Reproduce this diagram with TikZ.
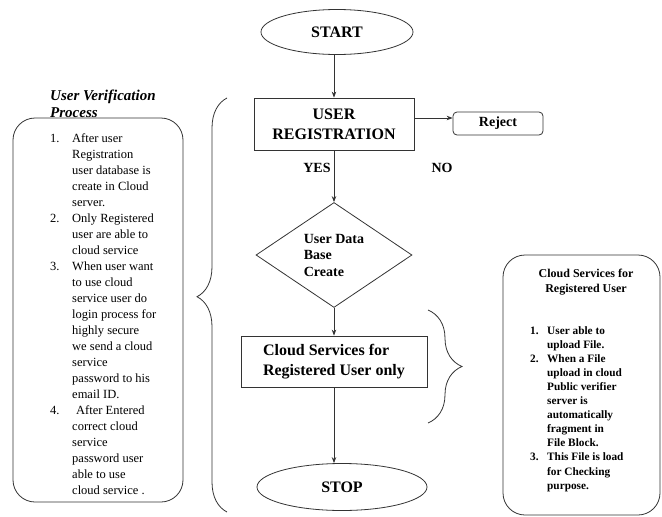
\documentclass[tikz,border=0pt]{standalone}
\usepackage{fontspec}
\setmainfont{Liberation Serif}[
	BoldFont={Liberation Serif Bold},
	ItalicFont={Liberation Serif Italic},
	BoldItalicFont={Liberation Serif Bold Italic}]
\usetikzlibrary{shapes.geometric, arrows.meta, decorations.pathreplacing}

\tikzset{
	flowline/.style={draw=black!80, line width=0.8pt},
	arrowline/.style={flowline, -{Stealth[length=6pt, width=4.5pt]}},
	procbox/.style={flowline, rectangle, inner sep=0pt, align=center, font=\bfseries\fontsize{16}{20}\selectfont},
	termnode/.style={flowline, ellipse, inner sep=0pt, font=\bfseries\fontsize{16}{19}\selectfont},
	notebox/.style={flowline, rectangle, rounded corners=22pt, inner sep=0pt},
	listtext/.style={inner sep=0pt, anchor=base west},
	bracepath/.style={flowline, decorate, decoration={brace, amplitude=#1}},
}

\begin{document}
\begin{tikzpicture}[x=1pt, y=-1pt]

\useasboundingbox (0,0) rectangle (662,517); % keep img size

	% main flow
	\node[termnode, minimum width=152pt, minimum height=45pt] (start) at (337,32) {START};
	\node[procbox, minimum width=160pt, minimum height=52pt] (reg) at (334,124) {USER\\REGISTRATION};
	\node[flowline, rectangle, rounded corners=4pt, minimum width=90pt, minimum height=23pt, inner sep=0pt,
		font=\bfseries\fontsize{14}{16}\selectfont] (reject) at (498,123.5) {Reject};
	\node[diamond, flowline, shape aspect=1.5, minimum width=156pt, minimum height=105pt, inner sep=0pt,
		align=left, font=\bfseries\fontsize{14}{16.5}\selectfont] (dbase) at (334,255) {User Data\\Base\\Create};
	\node[procbox, align=left, minimum width=186pt, minimum height=51pt] (cloud) at (334,361.5) {Cloud Services for\\Registered User only};
	\node[termnode, minimum width=170pt, minimum height=47pt] (stop) at (342,487) {STOP};

	% yes / no
	\node[font=\bfseries\fontsize{14}{16}\selectfont] (yes) at (317,168) {YES};
	\node[font=\bfseries\fontsize{14}{16}\selectfont] (no) at (442,168) {NO};

	% arrows
	\draw[arrowline] (reg.north |- start.south) -- (reg.north);
	\draw[arrowline] ([yshift=6pt]reg.east) -- ([yshift=6pt]reg.east -| reject.west);
	\draw[arrowline] (reg.south) -- (dbase.north);
	\draw[arrowline] (dbase.south) -- (cloud.north);
	\draw[arrowline] (cloud.south) -- (cloud.south |- stop.north);

	% user verification side
	\node[listtext, font=\bfseries\itshape\fontsize{15}{17}\selectfont] (vtitle) at (50,100)
		{\begin{tabular}[t]{@{}l@{}}User Verification\\Process\end{tabular}};
	\node[notebox, minimum width=170pt, minimum height=384pt] (vbox) at (98,310) {};
	\node[listtext, font=\fontsize{12.5}{16}\selectfont] (vlist) at (50,142)
		{\begin{tabular}[t]{@{}p{22pt}@{}l@{}}
		1. & After user\\
		   & Registration\\
		   & user database is\\
		   & create in Cloud\\
		   & server.\\
		2. & Only Registered\\
		   & user are able to\\
		   & cloud service\\
		3. & When user want\\
		   & to use cloud\\
		   & service user do\\
		   & login process for\\
		   & highly secure\\
		   & we send a cloud\\
		   & service\\
		   & password to his\\
		   & email ID.\\
		4. & \hspace{4pt}After Entered\\
		   & correct cloud\\
		   & service\\
		   & password user\\
		   & able to use\\
		   & cloud service .
		\end{tabular}};

	% cloud services side
	\node[notebox, minimum width=157pt, minimum height=260pt] (cbox) at (581.5,385) {};
	\node[inner sep=0pt, anchor=base, font=\bfseries\fontsize{12}{15}\selectfont] (ctitle) at (586,277)
		{\begin{tabular}[t]{@{}c@{}}Cloud Services for\\Registered User\end{tabular}};
	\node[listtext, font=\bfseries\fontsize{11.3}{14.1}\selectfont] (clist) at (530,334)
		{\begin{tabular}[t]{@{}p{17pt}@{}l@{}}
		1. & User able to\\
		   & upload File.\\
		2. & When a File\\
		   & upload in cloud\\
		   & Public verifier\\
		   & server is\\
		   & automatically\\
		   & fragment in\\
		   & File Block.\\
		3. & This File is load\\
		   & for Checking\\
		   & purpose.
		\end{tabular}};

	% braces
	\coordinate (lbtop) at (227,98);
	\coordinate (lbbot) at (227,512);
	\draw[bracepath=30pt, decoration={aspect=0.52}] (lbbot) -- (lbtop);
	\coordinate (rbtop) at (428,310);
	\coordinate (rbbot) at (428,423);
	\draw[bracepath=34pt] (rbtop) -- (rbbot);

\end{tikzpicture}
\end{document}
